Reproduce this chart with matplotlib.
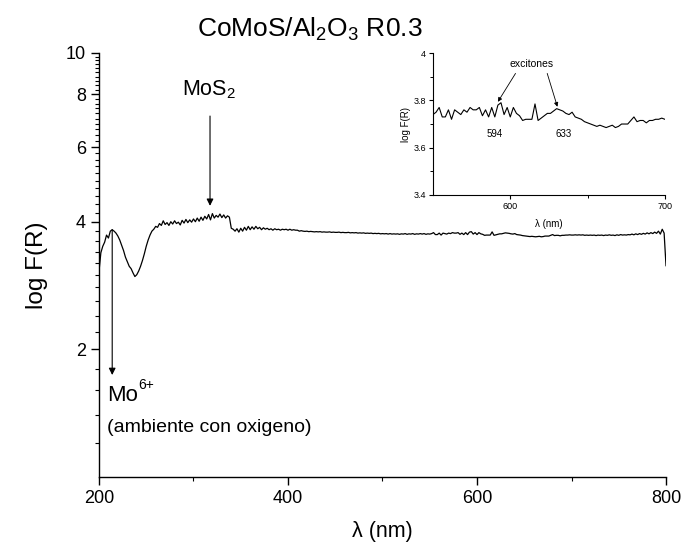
import numpy as np
import matplotlib
matplotlib.use("Agg")
import matplotlib.pyplot as plt
from matplotlib.ticker import FixedLocator, NullFormatter, FixedFormatter

plt.rcParams['font.family'] = ['Liberation Sans', 'DejaVu Sans']
plt.rcParams['mathtext.fontset'] = 'custom'
plt.rcParams['mathtext.rm'] = 'Liberation Sans'
plt.rcParams['mathtext.it'] = 'Liberation Sans:italic'
plt.rcParams['mathtext.default'] = 'regular'

# Diffuse reflectance spectrum, 2 nm steps from 200 to 800 nm
wavelength = np.arange(200, 801, 2)
log_fr = [
    3.05, 3.38, 3.50, 3.58, 3.72, 3.66, 3.80, 3.83, 3.80, 3.76,   # 200-218
    3.70, 3.62, 3.52, 3.42, 3.30, 3.22, 3.14, 3.10, 3.03, 2.97,   # 220-238
    3.00, 3.06, 3.14, 3.24, 3.36, 3.50, 3.62, 3.72, 3.80, 3.84,   # 240-258
    3.90, 3.88, 3.96, 3.92, 4.02, 3.94, 3.98, 3.92, 4.00, 3.95,   # 260-278
    4.02, 3.96, 3.99, 3.93, 4.03, 3.97, 4.05, 3.98, 4.04, 3.99,   # 280-298
    4.06, 4.00, 4.08, 4.01, 4.10, 4.03, 4.12, 4.06, 4.16, 4.04,   # 300-318
    4.18, 4.08, 4.14, 4.10, 4.17, 4.09, 4.15, 4.08, 4.13, 4.10,   # 320-338
    3.86, 3.84, 3.80, 3.85, 3.78, 3.86, 3.80, 3.88, 3.82, 3.90,   # 340-358
    3.83, 3.89, 3.84, 3.90, 3.85, 3.88, 3.83, 3.87, 3.84, 3.86,   # 360-378
    3.83, 3.85, 3.82, 3.85, 3.83, 3.84, 3.82, 3.84, 3.83, 3.84,   # 380-398
    3.82, 3.84, 3.82, 3.83, 3.82, 3.82, 3.80, 3.81, 3.80, 3.795,  # 400-418
    3.80, 3.79, 3.795, 3.79, 3.785, 3.79, 3.785, 3.79, 3.78, 3.785,  # 420-438
    3.78, 3.78, 3.785, 3.775, 3.78, 3.775, 3.775, 3.78, 3.77, 3.775,  # 440-458
    3.77, 3.77, 3.775, 3.765, 3.77, 3.765, 3.77, 3.76, 3.765, 3.76,   # 460-478
    3.765, 3.755, 3.76, 3.755, 3.76, 3.75, 3.755, 3.75, 3.755, 3.745,  # 480-498
    3.75, 3.745, 3.75, 3.74, 3.75, 3.74, 3.745, 3.74, 3.745, 3.735,    # 500-518
    3.745, 3.74, 3.75, 3.735, 3.745, 3.74, 3.75, 3.735, 3.745, 3.74,   # 520-538
    3.75, 3.74, 3.75, 3.735, 3.745, 3.74, 3.75, 3.77, 3.73, 3.73,      # 540-558
    3.76, 3.72, 3.76, 3.75, 3.74, 3.76, 3.75, 3.77, 3.76, 3.76,        # 560-578
    3.77, 3.735, 3.76, 3.73, 3.77, 3.73, 3.78, 3.79, 3.74, 3.77,       # 580-598
    3.73, 3.77, 3.745, 3.735, 3.715, 3.72, 3.72, 3.72, 3.785, 3.715,   # 600-618
    3.725, 3.735, 3.745, 3.745, 3.755, 3.765, 3.76, 3.755, 3.745, 3.74,  # 620-638
    3.75, 3.73, 3.725, 3.72, 3.71, 3.705, 3.70, 3.695, 3.69, 3.695,    # 640-658
    3.69, 3.685, 3.69, 3.695, 3.685, 3.69, 3.70, 3.70, 3.70, 3.715,    # 660-678
    3.73, 3.71, 3.715, 3.715, 3.705, 3.715, 3.715, 3.72, 3.72, 3.725,  # 680-698
    3.72, 3.72, 3.725, 3.72, 3.725, 3.72, 3.725, 3.715, 3.72, 3.715,   # 700-718
    3.72, 3.715, 3.72, 3.71, 3.72, 3.715, 3.72, 3.71, 3.72, 3.715,     # 720-738
    3.725, 3.715, 3.72, 3.71, 3.725, 3.715, 3.73, 3.72, 3.725, 3.72,   # 740-758
    3.73, 3.725, 3.74, 3.725, 3.745, 3.73, 3.75, 3.735, 3.755, 3.74,   # 760-778
    3.765, 3.745, 3.77, 3.75, 3.78, 3.755, 3.80, 3.74, 3.84, 3.76,     # 780-798
    3.15,                                                              # 800
]

y_major = [2, 4, 6, 8, 10]
y_major_labels = ["2", "4", "6", "8", "10"]
x_major = [200, 400, 600, 800]
inset_y_ticks = [3.4, 3.6, 3.8, 4.0]
inset_y_labels = ["3.4", "3.6", "3.8", "4"]
inset_x_ticks = [600, 700]

exciton_peaks = [594, 633]
exciton_arrow_tips = [(592, 3.794), (630.5, 3.773)]

fig = plt.figure(figsize=(6.84, 5.5), dpi=100)
ax = fig.add_axes([0.1447, 0.1327, 0.829, 0.771])

ax.plot(wavelength, log_fr, color='black', lw=0.9)
ax.set_yscale('log')
ax.set_xlim(200, 800)
ax.set_ylim(1, 10)

ax.yaxis.set_major_locator(FixedLocator(y_major))
ax.yaxis.set_major_formatter(FixedFormatter(y_major_labels))
ax.yaxis.set_minor_locator(FixedLocator([v / 10 for v in range(12, 100, 2)]))
ax.yaxis.set_minor_formatter(NullFormatter())
ax.xaxis.set_major_locator(FixedLocator(x_major))
ax.xaxis.set_minor_locator(FixedLocator([300, 500, 700]))

for s in ['top', 'right']:
    ax.spines[s].set_visible(False)
for s in ['left', 'bottom']:
    ax.spines[s].set_linewidth(1.0)
ax.tick_params(which='major', direction='out', length=6, width=1.0, labelsize=13)
ax.tick_params(which='minor', direction='out', length=3, width=0.8)

ax.set_xlabel('λ (nm)', fontsize=15.5, labelpad=10)
ax.set_ylabel('log F(R)', fontsize=17.5, labelpad=13)

fig.text(0.453, 0.947, 'CoMoS/Al$_2$O$_3$ R0.3', fontsize=19, ha='center', va='center')

arrow = dict(arrowstyle='-|>', color='black', lw=0.8, mutation_scale=10, shrinkA=0, shrinkB=0)
ax.annotate('', xy=(317.5, 4.36), xytext=(317.5, 7.1), arrowprops=arrow)
ax.text(287.5, 7.95, 'MoS$_2$', fontsize=15.5, ha='left', va='baseline')

ax.annotate('', xy=(214, 1.74), xytext=(214, 3.83), arrowprops=arrow)
mo = ax.text(208.3, 1.51, 'Mo', fontsize=16, ha='left', va='baseline')
ax.annotate('6+', xy=(1, 1), xycoords=mo, xytext=(0.5, 5), textcoords='offset points',
            fontsize=10, ha='left', va='top')
ax.text(208.3, 1.28, '(ambiente con oxigeno)', fontsize=14, ha='left', va='baseline')

# Inset: zoom on the exciton region
axi = fig.add_axes([0.633, 0.6455, 0.339, 0.258])
axi.plot(wavelength, log_fr, color='black', lw=0.8)
axi.set_xlim(550, 700)
axi.set_ylim(3.4, 4.0)
axi.yaxis.set_major_locator(FixedLocator(inset_y_ticks))
axi.yaxis.set_major_formatter(FixedFormatter(inset_y_labels))
axi.yaxis.set_minor_locator(FixedLocator([3.5, 3.7, 3.9]))
axi.xaxis.set_major_locator(FixedLocator(inset_x_ticks))
axi.xaxis.set_minor_locator(FixedLocator([650]))
for s in ['top', 'right']:
    axi.spines[s].set_visible(False)
for s in ['left', 'bottom']:
    axi.spines[s].set_linewidth(0.8)
axi.tick_params(which='major', direction='out', length=3, width=0.8, labelsize=6.5, pad=2)
axi.tick_params(which='minor', direction='out', length=2, width=0.7)
axi.set_xlabel('λ (nm)', fontsize=7, labelpad=6)
axi.set_ylabel('log F(R)', fontsize=7, labelpad=2)

small_arrow = dict(arrowstyle='-|>', color='black', lw=0.6, mutation_scale=6, shrinkA=0, shrinkB=0)
for (tx, ty), sx in zip(exciton_arrow_tips, [603.4, 623.9]):
    axi.annotate('', xy=(tx, ty), xytext=(sx, 3.914), arrowprops=small_arrow)
axi.text(614, 3.955, 'excitones', fontsize=7.5, ha='center', va='center')
axi.text(590.2, 3.657, str(exciton_peaks[0]), fontsize=7, ha='center', va='center')
axi.text(634.8, 3.657, str(exciton_peaks[1]), fontsize=7, ha='center', va='center')

fig.savefig('out.png', dpi=100)
